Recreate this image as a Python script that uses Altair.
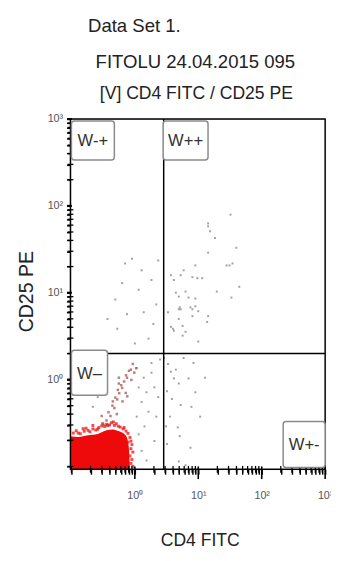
import altair as alt
import pandas as pd

FONT = "Liberation Sans"

# ---- data ----
# dense red population: x positions and upper edge (lower edge = axis minimum)
blob_x = [0.0966, 0.128, 0.183, 0.260, 0.311, 0.371, 0.443, 0.529, 0.631, 0.70, 0.753, 0.80, 0.84]
blob_top = [0.222, 0.218, 0.228, 0.236, 0.250, 0.262, 0.266, 0.258, 0.246, 0.232, 0.212, 0.17, 0.0925]

# red fuzz around the dense population
red_x = [0.107, 0.119, 0.138, 0.159, 0.170, 0.196, 0.218, 0.242, 0.270, 0.300, 0.334, 0.358, 0.398, 0.427,
         0.476, 0.510, 0.548, 0.588, 0.654, 0.727, 0.780, 0.838, 0.868, 0.899, 0.868, 0.931, 0.838, 0.899,
         0.868, 0.931, 0.780, 0.677, 0.459, 0.371, 0.260, 0.183, 0.128, 0.153, 0.218, 0.311]
red_y = [0.242, 0.257, 0.238, 0.254, 0.275, 0.250, 0.270, 0.262, 0.280, 0.292, 0.288, 0.305, 0.300, 0.318,
         0.296, 0.310, 0.290, 0.283, 0.270, 0.255, 0.240, 0.215, 0.195, 0.178, 0.160, 0.146, 0.132, 0.120,
         0.108, 0.100, 0.190, 0.280, 0.325, 0.295, 0.268, 0.260, 0.242, 0.272, 0.296, 0.310]

# diagonal band of dark red events
streak_x = [0.931, 0.868, 0.808, 0.753, 0.727, 0.677, 0.631, 0.609, 0.567, 0.529, 0.492, 0.476, 0.443, 0.413,
            0.385, 0.358, 0.720, 0.540, 0.450, 0.880, 0.760, 0.520, 0.640, 0.400, 0.980, 0.322, 0.560, 1.05,
            0.560, 0.300]
streak_y = [1.51, 1.30, 1.26, 1.05, 1.12, 0.949, 0.800, 0.860, 0.696, 0.590, 0.620, 0.470, 0.500, 0.380,
            0.420, 0.338, 0.700, 0.760, 0.560, 0.990, 0.640, 0.400, 0.560, 0.300, 1.20, 0.300, 0.900, 1.35,
            1.05, 0.380]

# sparse grey events per region
ll_x = [1.38, 1.53, 2.03, 1.28, 1.64, 2.18, 1.07, 1.42, 1.15, 1.07, 1.83, 2.34, 1.28, 1.53, 2.03, 0.218, 0.260,
        1.15, 1.83, 2.50]
ll_y = [1.05, 0.714, 0.813, 0.552, 0.426, 0.374, 0.374, 0.289, 0.234, 1.36, 1.55, 0.628, 0.151, 0.117, 0.196,
        0.485, 0.628, 0.81, 1.20, 1.70]

lr_x = [2.89, 3.33, 3.71, 4.13, 4.93, 7.02, 3.22, 5.29, 3.58, 4.75, 7.81, 5.11, 3.22, 7.53, 4.93, 6.31, 3.84,
        8.99, 10.7, 3.11, 5.88, 4.43, 12.8, 8.39]
lr_y = [1.77, 1.51, 1.23, 1.03, 0.901, 1.03, 0.733, 0.510, 0.374, 0.281, 0.485, 0.223, 0.181, 0.164, 0.114,
        0.103, 0.596, 0.714, 0.374, 0.289, 1.77, 1.30, 1.05, 1.55]

ul_x = [0.631, 1.38, 1.96, 1.15, 0.529, 0.702, 0.899, 1.28, 0.492, 2.18, 1.64, 1.0, 0.371, 0.753, 1.83, 2.34]
ul_y = [12.9, 5.96, 4.37, 10.8, 3.84, 21.7, 24.6, 18.1, 8.34, 7.33, 2.96, 2.60, 4.97, 5.66, 14.0, 23.5]

ur_x = [14.3, 14.3, 32.2, 14.3, 39.8, 27.9, 31.1, 8.99, 9.65, 11.5, 8.08, 5.88, 5.29, 4.13, 19.6, 4.93, 7.02,
        8.99, 5.11, 7.53, 10.0, 14.3, 33.3, 44.3, 3.71, 34.6, 15.3, 18.3, 4.43, 6.31, 5.29, 3.71, 4.13, 5.67,
        8.08, 8.99, 6.31, 3.33, 4.93, 4.93, 3.98, 5.67, 13.8, 10.0, 8.08]
ur_y = [62.8, 58.1, 79.2, 28.9, 32.9, 20.6, 20.6, 20.6, 14.7, 14.7, 15.1, 18.1, 15.9, 14.0, 10.3, 9.02, 8.79,
        8.57, 6.78, 6.78, 6.12, 5.37, 8.79, 11.7, 15.9, 21.7, 51.0, 42.6, 10.0, 10.3, 6.44, 4.04, 3.65, 4.15,
        5.37, 6.96, 3.55, 5.96, 4.97, 6.44, 3.84, 3.20, 4.60, 2.74, 6.44]

# quadrant gate positions
gate_x = [2.85]
gate_y = [2.0]

# axis ticks / labels
MINOR_TICKS = [0.1, 0.2, 0.3, 0.4, 0.5, 0.6, 0.7, 0.8, 0.9,
               2, 3, 4, 5, 6, 7, 8, 9,
               20, 30, 40, 50, 60, 70, 80, 90,
               200, 300, 400, 500, 600, 700, 800, 900]
DECADES = [1, 10, 100, 1000]
DECADE_LABELS = ["10⁰", "10¹", "10²", "10³"]
ALL_TICKS = sorted(MINOR_TICKS + DECADES)

# texts
TITLE_LINES = ["Data Set 1.", "FITOLU 24.04.2015 095", "[V] CD4 FITC / CD25 PE"]
X_TITLE = "CD4 FITC"
Y_TITLE = "CD25 PE"
GATE_LABELS = ["W-+", "W++", "W–", "W+-"]

X_MIN, Y_MIN = 0.0966, 0.0925

# ---- tables ----
blob = pd.DataFrame({"x": blob_x, "top": blob_top, "base": [Y_MIN] * len(blob_x)})
pts = pd.concat([
    pd.DataFrame({"x": red_x, "y": red_y, "g": "red"}),
    pd.DataFrame({"x": streak_x, "y": streak_y, "g": "streak"}),
    pd.DataFrame({"x": ll_x + lr_x + ul_x + ur_x, "y": ll_y + lr_y + ul_y + ur_y, "g": "grey"}),
], ignore_index=True)
gx = pd.DataFrame({"gx": gate_x})
gy = pd.DataFrame({"gy": gate_y})

# tick positions along the axes (each tick sits on the axis line: the other coordinate is the axis minimum)
xtick_minor = pd.DataFrame({"x": [float(v) for v in MINOR_TICKS], "y": Y_MIN})
xtick_major = pd.DataFrame({"x": [float(v) for v in DECADES], "y": Y_MIN})
ytick_minor = pd.DataFrame({"x": X_MIN, "y": [float(v) for v in MINOR_TICKS]})
ytick_major = pd.DataFrame({"x": X_MIN, "y": [float(v) for v in DECADES]})

W, H = 261, 359
xscale = alt.Scale(type="log", domain=[X_MIN, 1000], nice=False)
yscale = alt.Scale(type="log", domain=[Y_MIN, 1000], nice=False)

label_expr = " : ".join(
    f"datum.value == {v} ? '{t}'" for v, t in zip(DECADES, DECADE_LABELS)
) + " : ''"

x_axis = alt.Axis(values=ALL_TICKS, labelExpr=label_expr, title=None, domain=False, grid=False,
                  ticks=True, tickSize=5, tickColor="black", tickWidth=1.5,
                  labelPadding=16, labelFont=FONT, labelFontSize=11,
                  labelColor="#555", labelOverlap=False, labelFlush=False)
y_axis = alt.Axis(values=ALL_TICKS, labelExpr=label_expr, title=None, domain=False, grid=False,
                  ticks=True, tickSize=4, tickColor="black", tickWidth=1.5,
                  labelPadding=4, labelFont=FONT, labelFontSize=11,
                  labelColor="#555", labelOverlap=False, labelFlush=False)

X = lambda f: alt.X(f, scale=xscale, axis=x_axis)
Y = lambda f: alt.Y(f, scale=yscale, axis=y_axis)

area = alt.Chart(blob).mark_area(color="#ee0a0a", interpolate="monotone").encode(
    x=X("x:Q"), y=Y("top:Q"), y2="base:Q")

dots = alt.Chart(pts).mark_square().encode(
    x=X("x:Q"), y=Y("y:Q"),
    color=alt.Color("g:N", scale=alt.Scale(domain=["red", "streak", "grey"],
                                           range=["#ee1010", "#a05050", "#777777"]), legend=None),
    size=alt.Size("g:N", scale=alt.Scale(domain=["red", "streak", "grey"], range=[9, 4, 3]), legend=None),
    opacity=alt.Opacity("g:N", scale=alt.Scale(domain=["red", "streak", "grey"], range=[0.75, 0.7, 0.55]),
                        legend=None))


# tick marks drawn as line-shaped symbols sitting on the axes
def tick_layer(df, path, size, width):
    return alt.Chart(df).mark_point(shape=path, size=size, filled=False, color="black",
                                    strokeWidth=width, opacity=1).encode(x=X("x:Q"), y=Y("y:Q"))


xt_minor = tick_layer(xtick_minor, "M0,-1L0,1", 49, 1.3)          # crosses the x axis, ~7 px
xt_major = tick_layer(xtick_major, "M0,-0.46L0,1.54", 169, 1.6)   # 3 px in, 10 px out
yt_minor = tick_layer(ytick_minor, "M-1,0L1,0", 36, 1.3)          # crosses the y axis, ~6 px
yt_major = tick_layer(ytick_major, "M-1.4,0L0.6,0", 25, 2)        # mostly outward

vrule = alt.Chart(gx).mark_rule(color="black", strokeWidth=1.5).encode(x=X("gx:Q"))
hrule = alt.Chart(gy).mark_rule(color="black", strokeWidth=1.5).encode(y=Y("gy:Q"))

one = pd.DataFrame({"k": [0]})
frame = alt.Chart(one).mark_rect(fill="white", fillOpacity=0, stroke="black", strokeWidth=1.5).encode(
    x=alt.value(0), x2=alt.value(W), y=alt.value(0), y2=alt.value(H))


def box(x1, y1, x2, y2, label):
    d = pd.DataFrame({"s": [label]})
    r = alt.Chart(d).mark_rect(fill="white", stroke="#8a8a8a", strokeWidth=1.5, cornerRadius=3).encode(
        x=alt.value(x1), x2=alt.value(x2), y=alt.value(y1), y2=alt.value(y2))
    t = alt.Chart(d).mark_text(font=FONT, fontSize=17, color="#333",
                               align="center", baseline="middle").encode(
        text="s:N", x=alt.value((x1 + x2) / 2), y=alt.value((y1 + y2) / 2 + 1))
    return [r, t]


boxes = (box(1, 2, 45, 42, GATE_LABELS[0]) + box(95, 2, 141, 42, GATE_LABELS[1])
         + box(1, 237, 38, 283, GATE_LABELS[2]) + box(218, 310, 261, 357, GATE_LABELS[3]))


def txt(s, x, y, size, align="center", angle=0):
    d = pd.DataFrame({"s": [s]})
    return alt.Chart(d).mark_text(font=FONT, fontSize=size, color="#222", align=align,
                                  baseline="alphabetic", angle=angle).encode(
        text="s:N", x=alt.value(x), y=alt.value(y))


texts = [
    txt(TITLE_LINES[0], 18, -89, 19, align="left"),
    txt(TITLE_LINES[1], 128, -52, 19),
    txt(TITLE_LINES[2], 129, -20, 18),
    txt(X_TITLE, 133, 438, 18),
    txt(Y_TITLE, -38, 177, 20, angle=270),
]

chart = alt.layer(area, dots, vrule, hrule, frame, xt_minor, xt_major, yt_minor, yt_major,
                  *boxes, *texts).properties(
    width=W, height=H,
    autosize=alt.AutoSizeParams(type="none"),
    padding={"left": 64, "top": 107, "right": 6, "bottom": 79},
).configure_view(stroke=None).configure(background="white")

chart.save("out.html", embed_options={"renderer": "svg", "actions": False})
